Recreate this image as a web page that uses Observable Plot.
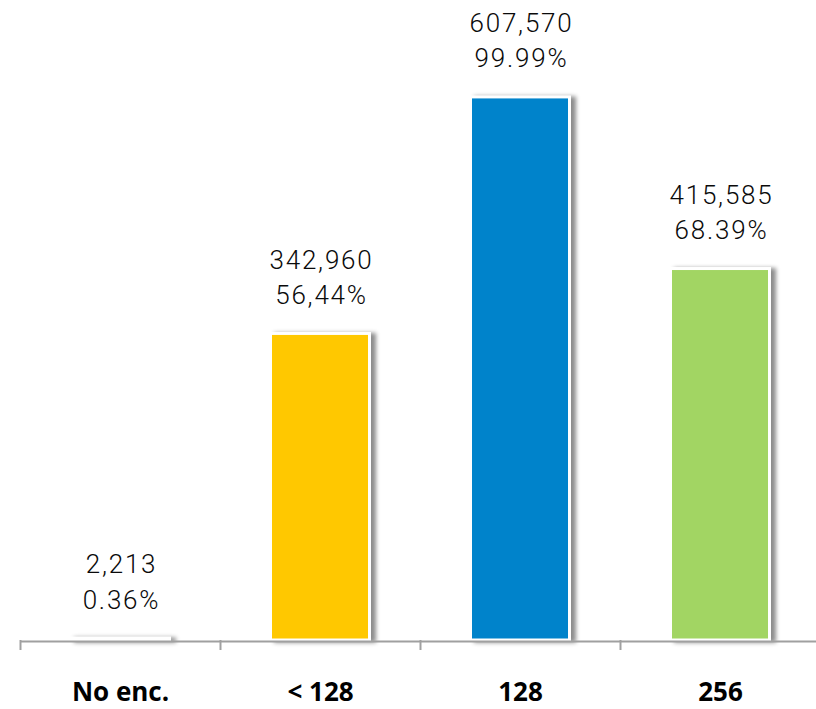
<!DOCTYPE html>
<html><head><meta charset="utf-8">
<script src="https://cdn.jsdelivr.net/npm/d3@7"></script>
<script src="https://cdn.jsdelivr.net/npm/@observablehq/plot@0.6"></script>
<style>
body{margin:0;background:#fff;}
</style></head><body><div id="chart"></div>
<script>
const categories = ["No enc.", "< 128", "128", "256"];
const counts = [2213, 342960, 607570, 415585];
const percentLabels = ["0.36%", "56,44%", "99.99%", "68.39%"];
const colors = ["#ffffff", "#ffc800", "#0083cb", "#a2d563"];

const fmt = d3.format(",");
const data = categories.map((c, i) => ({category: c, count: counts[i], pct: percentLabels[i], color: colors[i]}));

const chart = Plot.plot({
  width: 816, height: 709,
  marginTop: 0, marginBottom: 69, marginLeft: 20, marginRight: -4,
  x: {domain: categories, padding: 0, label: null},
  y: {domain: [0, 716000], axis: null},
  color: {type: "identity"},
  style: {background: "#fff", fontFamily: "Roboto, 'Liberation Sans', sans-serif"},
  marks: [
    Plot.barY(data, {x: "category", y: "count", fill: "color", stroke: "#fff", strokeWidth: 3, insetLeft: 50.5, insetRight: 50.5}),
    Plot.ruleY([0], {stroke: "#a0a0a0", strokeWidth: 2, dy: 1}),
    Plot.axisX({tickSize: 10, dx: -100, tickFormat: () => "", stroke: "#a0a0a0", strokeWidth: 2, label: null}),
    Plot.axisX({tickSize: 0, tickPadding: 42, fontSize: 26, fontWeight: "bold", fontFamily: "'Open Sans', sans-serif", fill: "#000", label: null}),
    Plot.text(data, {x: "category", y: "count", text: d => fmt(d.count) + "\n" + d.pct, lineAnchor: "bottom", dy: -30, dx: 1, fontSize: 26, lineHeight: 1.35, fill: "#0a0a0a", fontWeight: 300})
  ]
});
d3.select(chart).selectAll('g[aria-label="bar"] rect').style("filter", "drop-shadow(5px 1px 2px rgba(0,0,0,0.45))");
d3.select(chart).selectAll('g[aria-label="text"] text').style("letter-spacing", "1.8px");
document.getElementById("chart").appendChild(chart);
</script></body></html>
